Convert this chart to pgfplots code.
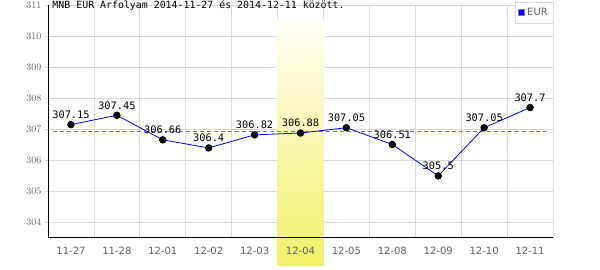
\documentclass[border=0pt]{standalone}
\usepackage{pgfplots}
\pgfplotsset{compat=1.18}
\usepackage{fontspec}
\setmainfont{DejaVu Sans}
\newfontfamily\mono{DejaVu Sans Mono}
\definecolor{ticktext}{RGB}{95,95,95}
\definecolor{gridc}{RGB}{217,217,217}
\definecolor{bandtop}{RGB}{255,255,246}
\definecolor{bandbot}{RGB}{242,239,104}
\definecolor{avgline}{RGB}{110,110,255}
\pgfplotsset{
  common/.style={
    at={(48pt,32pt)}, anchor=south west,
    scale only axis, width=505pt, height=233pt,
    xmin=-0.5, xmax=10.5, ymin=303.5, ymax=311,
    axis x line*=bottom, axis y line*=left,
    xtick={0,...,10},
    minor xtick={0.5,1.5,...,10.5},
    ytick={304,305,...,311},
    minor tick length=0pt,
    major tick length=3pt, tick align=outside,
    xtick style={draw=none},
    clip=false,
  }
}
\begin{document}
\begin{tikzpicture}
% background axis: grid and highlight band
\begin{axis}[
  common,
  axis line style={draw=none},
  xticklabels={}, yticklabels={},
  xminorgrids=true, xmajorgrids=false, ymajorgrids=true,
  grid style={color=gridc, line width=0.8pt},
  minor grid style={color=gridc, line width=0.8pt},
  ytick style={color=gridc, line width=0.8pt},
]
\shade[top color=bandtop, bottom color=bandbot] (axis cs:4.5,310.52) rectangle (axis cs:5.5,302.6);
\end{axis}
% foreground axis: data, axis lines, labels
\begin{axis}[
  common,
  axis line style={black, line width=1pt, -},
  xticklabels={11-27,11-28,12-01,12-02,12-03,12-04,12-05,12-08,12-09,12-10,12-11},
  ytick style={draw=none},
  ticklabel style={font=\fontsize{10}{11}\selectfont, text=ticktext},
  xticklabel style={yshift=-3pt},
  legend style={at={(1,1.013)}, anchor=north east, draw=gridc, fill=white,
    font=\fontsize{10}{11}\selectfont, text=ticktext, inner xsep=3pt, inner ysep=4pt,
    legend cell align=left},
]
\addplot[color=avgline, dash pattern=on 4pt off 3pt, line width=0.9pt, forget plot] coordinates {(-0.4,306.93) (10.4,306.93)};
\addplot[blue, line width=0.8pt, mark=*, mark size=3.3pt,
  mark options={fill=black, draw=black, solid},
  point meta=explicit symbolic,
  nodes near coords,
  every node near coord/.style={anchor=base, yshift=6pt, inner sep=0pt, text=black, font=\mono\fontsize{10.3}{11}\selectfont},
  legend image code/.code={\fill[blue, draw=gray] (0pt,-3pt) rectangle (6pt,3pt);}
] coordinates {
  (0,307.15) [307.15]
  (1,307.45) [307.45]
  (2,306.66) [306.66]
  (3,306.4) [306.4]
  (4,306.82) [306.82]
  (5,306.88) [306.88]
  (6,307.05) [307.05]
  (7,306.51) [306.51]
  (8,305.5) [305.5]
  (9,307.05) [307.05]
  (10,307.7) [307.7]
};
\addlegendentry{EUR}
\node[anchor=base west, inner sep=0pt, font=\mono\fontsize{9.9}{10}\selectfont] at (rel axis cs:0.0085,0.983) {MNB EUR Árfolyam 2014-11-27 és 2014-12-11 között.};
\end{axis}
\pgfresetboundingbox
\path[use as bounding box] (0,0) rectangle (600pt,270pt);
\end{tikzpicture}
\end{document}
